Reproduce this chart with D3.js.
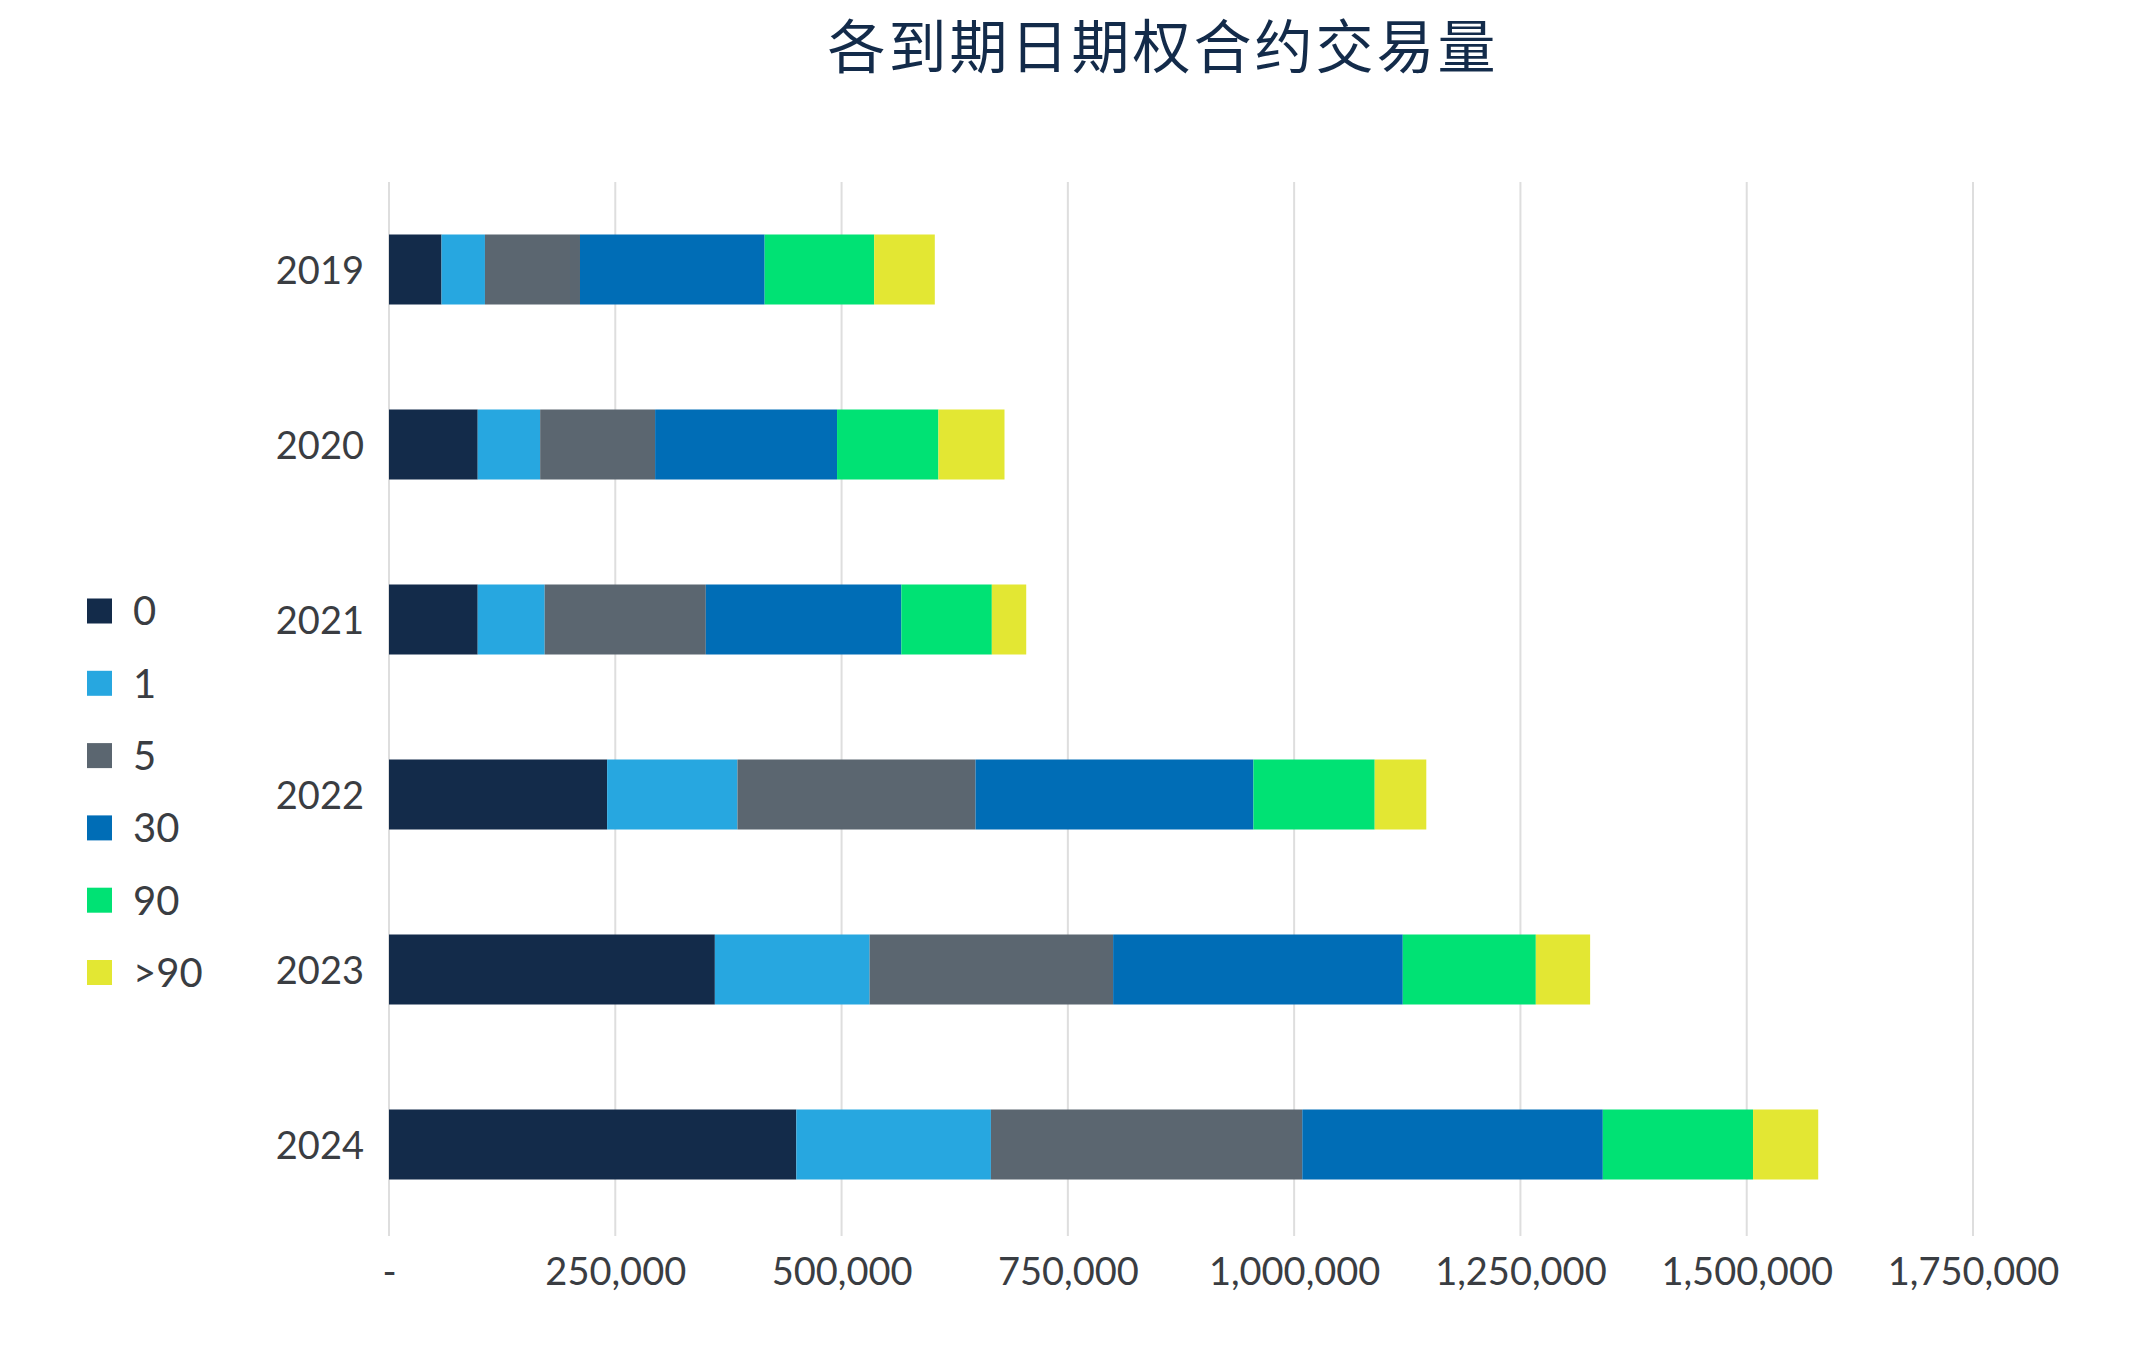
<!DOCTYPE html>
<html>
<head>
<meta charset="utf-8">
<script src="https://cdn.jsdelivr.net/npm/d3@7"></script>
<style>
  html, body { margin: 0; padding: 0; background: #fff; }
  svg { display: block; }
</style>
</head>
<body>
<div id="chart"></div>
<script>
// 数据
const years = ["2019", "2020", "2021", "2022", "2023", "2024"];
const seriesNames = ["0", "1", "5", "30", "90", ">90"];
const seriesColors = ["#132B4A", "#27A7E0", "#5B6670", "#006DB6", "#00E274", "#E3E733"];

const vol0   = [58000, 98000, 98000, 241000, 360000, 450000];
const vol1   = [48000, 69000, 74000, 144000, 171000, 215000];
const vol5   = [105000, 127000, 178000, 263000, 269000, 344000];
const vol30  = [204000, 201000, 216000, 307000, 320000, 332000];
const vol90  = [121000, 112000, 100000, 134000, 147000, 166000];
const vol90p = [67000, 73000, 38000, 57000, 60000, 72000];

const xTicks = [0, 250000, 500000, 750000, 1000000, 1250000, 1500000, 1750000];
const title = "各到期日期权合约交易量";

const width = 2145;
const height = 1369;

// 表格
const allSeries = [vol0, vol1, vol5, vol30, vol90, vol90p];
const table = years.map((y, i) => {
  const row = { year: y };
  seriesNames.forEach((s, j) => row[s] = allSeries[j][i]);
  return row;
});

const stacked = d3.stack().keys(seriesNames)(table);

const svg = d3.select("#chart")
  .append("svg")
  .attr("width", width)
  .attr("height", height)
  .attr("viewBox", [0, 0, width, height]);

const x = d3.scaleLinear()
  .domain([0, 1750000])
  .range([389, 1973]);

const y = d3.scaleBand()
  .domain(years)
  .range([182, 1232])
  .paddingInner(0.6)
  .paddingOuter(0.3);

const color = d3.scaleOrdinal().domain(seriesNames).range(seriesColors);

// 网格线
svg.append("g")
  .selectAll("line")
  .data(xTicks)
  .join("line")
  .attr("x1", d => x(d))
  .attr("x2", d => x(d))
  .attr("y1", 182)
  .attr("y2", 1236)
  .attr("stroke", "#dedede")
  .attr("stroke-width", 2);

// 柱子
svg.append("g")
  .selectAll("g")
  .data(stacked)
  .join("g")
  .attr("fill", d => color(d.key))
  .selectAll("rect")
  .data(d => d)
  .join("rect")
  .attr("x", d => x(d[0]))
  .attr("y", d => y(d.data.year))
  .attr("width", d => x(d[1]) - x(d[0]))
  .attr("height", y.bandwidth());

// x 轴
const xAxis = svg.append("g")
  .attr("transform", `translate(0,1252)`)
  .call(d3.axisBottom(x)
    .tickValues(xTicks)
    .tickSize(0)
    .tickPadding(6)
    .tickFormat(d => d === 0 ? "-" : d3.format(",")(d)));
xAxis.select(".domain").remove();
xAxis.selectAll("text")
  .attr("font-family", "Lato, 'Open Sans', sans-serif")
  .attr("font-size", 38)
  .attr("fill", "#3a3d42");

// y 轴
const yAxis = svg.append("g")
  .attr("transform", `translate(${x(0)},0)`)
  .call(d3.axisLeft(y).tickSize(0).tickPadding(25));
yAxis.select(".domain").remove();
yAxis.selectAll("text")
  .attr("font-family", "Lato, 'Open Sans', sans-serif")
  .attr("font-size", 38)
  .attr("dy", "0.38em")
  .attr("fill", "#3a3d42");

// 图例
const legend = svg.append("g")
  .selectAll("g")
  .data(seriesNames)
  .join("g")
  .attr("transform", (d, i) => `translate(87,${611 + i * 72.3})`);

legend.append("rect")
  .attr("x", 0)
  .attr("y", -12.5)
  .attr("width", 25)
  .attr("height", 25)
  .attr("fill", d => color(d));

legend.append("text")
  .attr("x", 46)
  .attr("y", 0)
  .attr("dy", "0.36em")
  .attr("font-family", "Lato, 'Open Sans', sans-serif")
  .attr("font-size", 40)
  .attr("fill", "#3a3d42")
  .text(d => d);

// 标题
svg.append("text")
  .attr("x", 1163)
  .attr("y", 68)
  .attr("text-anchor", "middle")
  .attr("font-family", "'Noto Sans CJK SC', sans-serif")
  .attr("font-size", 58)
  .attr("letter-spacing", 3)
  .attr("fill", "#132B4A")
  .text(title);
</script>
</body>
</html>
